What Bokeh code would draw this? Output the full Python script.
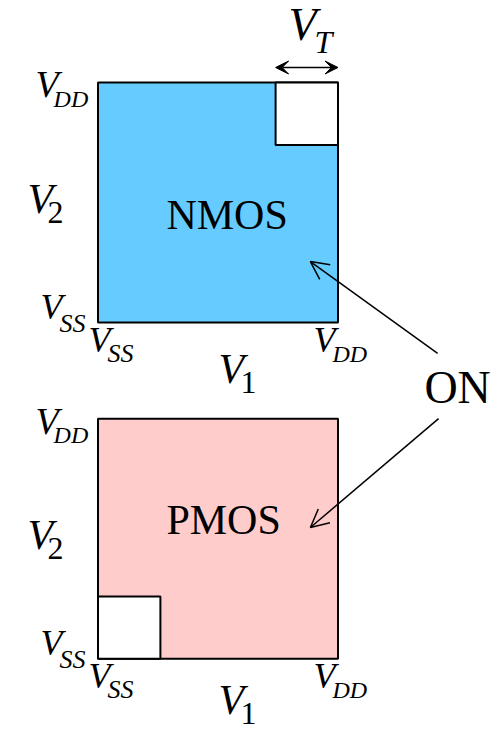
from bokeh.plotting import figure
from bokeh.models import Range1d, Arrow, OpenHead, VeeHead, ColumnDataSource
from bokeh.core.properties import value
from bokeh.embed import file_html
from bokeh.resources import INLINE

# ---- diagram data (voltage units: VSS = 0, VDD = 1) ----
VSS = 0.0
VDD = 1.0
VT = 0.26
devices = ["NMOS", "PMOS"]
fill_colors = ["#66CCFF", "#FFCCCC"]
# corner where the transistor is OFF: (x0, x1, y0, y1)
off_regions = [(VDD - VT, VDD, VDD - VT, VDD), (VSS, VSS + VT, VSS, VSS + VT)]
name_pos = [(0.285, 0.3875), (0.285, 0.518)]
on_arrow = [(1.415, -0.129, 0.885, 0.254), (1.419, 1.001, 0.885, 0.547)]

# axis labels: text, x, y (baseline), size (px), style
label_text = ["V", "DD", "V", "2", "V", "SS", "V", "SS", "V", "1", "V", "DD"]
label_x = [-0.260, -0.185, -0.294, -0.210, -0.240, -0.160, -0.040, 0.040, 0.502, 0.594, 0.898, 0.977]
label_y = [0.9375, 0.896, 0.454, 0.4125, 0.0125, -0.042, -0.125, -0.167, -0.254, -0.296, -0.125, -0.167]
label_size = [38, 24, 42, 32, 36, 26, 36, 26, 42, 32, 36, 24]
label_style = ["italic", "italic", "italic", "normal", "italic", "italic", "italic", "italic", "italic", "normal", "italic", "italic"]

FONT = value("Liberation Serif")
PX = 240.0          # pixels per volt unit
W, H = 502, 730
sq_left = 97.5                  # px from figure left to VSS
sq_top_bottom = 408.0           # px from figure bottom to the top panel's VSS
panel_shift = [0.0, -336.3 / PX]  # vertical placement of each panel
v1_lift = [0.0, 5.0 / PX]         # keep the lowest V1 label inside the page
BASE_FIX = 0.35                 # em: renderer places the anchor this far above the baseline

p = figure(width=W, height=H, output_backend="svg", toolbar_location=None,
           x_axis_location=None, y_axis_location=None, min_border=0,
           x_range=Range1d(-sq_left / PX, (W - sq_left) / PX),
           y_range=Range1d(-sq_top_bottom / PX, (H - sq_top_bottom) / PX))
p.grid.visible = False
p.outline_line_color = None
p.background_fill_color = "white"
p.border_fill_color = "white"


def add_text(xs, ys, texts, sizes, styles, dy=0.0):
    src = ColumnDataSource(dict(t=texts, x=xs,
                                y=[y + dy + BASE_FIX * s / PX for y, s in zip(ys, sizes)],
                                s=[f"{s}px" for s in sizes], st=styles))
    p.text(x="x", y="y", text="t", source=src, text_font=FONT, text_font_size="s",
           text_font_style="st", text_color="black", text_align="left",
           text_baseline="alphabetic")


for i, dev in enumerate(devices):
    dy = panel_shift[i]
    p.quad(left=[VSS], right=[VDD], bottom=[VSS + dy], top=[VDD + dy],
           fill_color=fill_colors[i], line_color="black", line_width=2)
    x0, x1, y0, y1 = off_regions[i]
    p.quad(left=[x0], right=[x1], bottom=[y0 + dy], top=[y1 + dy],
           fill_color="white", line_color="black", line_width=2)

    ly = list(label_y)
    ly[8] += v1_lift[i]
    ly[9] += v1_lift[i]
    add_text(label_x, ly, label_text, label_size, label_style, dy)
    add_text([name_pos[i][0]], [name_pos[i][1]], [dev], [42], ["normal"], dy)

    xs, ys, xe, ye = on_arrow[i]
    p.add_layout(Arrow(end=OpenHead(size=18, line_width=1.5, line_color="black"),
                       x_start=xs, y_start=ys + dy, x_end=xe, y_end=ye + dy,
                       line_width=1.5, line_color="black"))

# V_T dimension on the NMOS panel
p.add_layout(Arrow(start=VeeHead(size=13, fill_color="black", line_color="black"),
                   end=VeeHead(size=13, fill_color="black", line_color="black"),
                   x_start=VDD - VT, y_start=1.0625, x_end=VDD, y_end=1.0625,
                   line_width=1.5, line_color="black"))
add_text([0.794, 0.902], [1.175, 1.121], ["V", "T"], [46, 32], ["italic", "italic"])
add_text([1.360], [-0.3375], ["ON"], [46], ["normal"])

open("out.html", "w").write(file_html(p, INLINE))
